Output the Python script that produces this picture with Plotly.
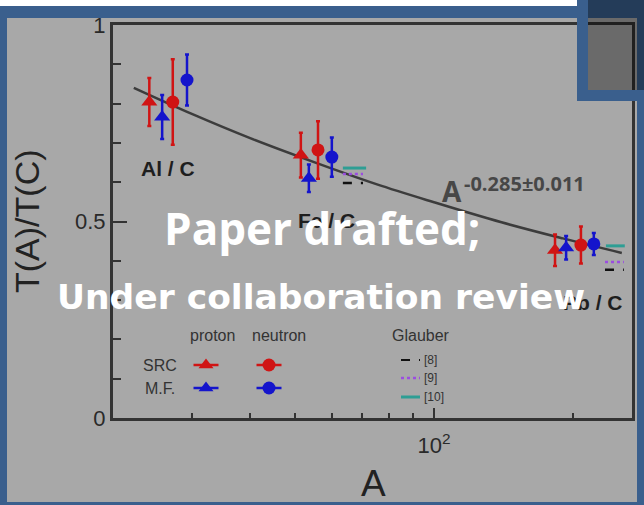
import plotly.graph_objects as go

W, H = 644, 505

# ---------------- data ----------------
src_p_A = [24.2, 51.5, 182.8]
src_p_T = [0.804, 0.669, 0.427]
src_p_err = [0.061, 0.057, 0.040]

mf_p_A = [25.8, 53.6, 193.2]
mf_p_T = [0.766, 0.610, 0.433]
mf_p_err = [0.056, 0.035, 0.030]

src_n_A = [27.2, 56.1, 208.0]
src_n_T = [0.804, 0.682, 0.440]
src_n_err = [0.109, 0.073, 0.047]

mf_n_A = [29.2, 60.1, 221.8]
mf_n_T = [0.860, 0.664, 0.443]
mf_n_err = [0.065, 0.050, 0.028]

fit_A = [22.4, 30, 40, 55, 75, 100, 140, 190, 255]
fit_T = [0.840, 0.773, 0.712, 0.651, 0.595, 0.549, 0.498, 0.457, 0.420]

glauber8_A = [63.5, 70.2, None, 234.5, 257.6]
glauber8_T = [0.598, 0.598, None, 0.377, 0.377]
glauber9_A = [63.5, 70.2, None, 234.5, 257.6]
glauber9_T = [0.621, 0.621, None, 0.397, 0.397]
glauber10_A = [63.5, 71.3, None, 235.6, 258.8]
glauber10_T = [0.636, 0.636, None, 0.438, 0.438]

x_tick_vals = [100]
x_tick_text = ["10<sup>2</sup>"]
x_minor_vals = [30, 40, 50, 60, 70, 80, 90, 200]
y_tick_vals = [0, 0.5, 1]
y_tick_text = ["0", "0.5", "1"]

fit_label = "-0.285±0.011"

# ---------------- style ----------------
RED = "#d01414"
BLUE = "#1414cc"
TEAL = "#2e9e94"
PURPLE = "#9b4de0"
AXC = "#333333"
BG = "#a8a8a8"
FRAME = "#3a5f8d"
ROOTF = "Liberation Sans"

fig = go.Figure()


def pts(xs, ys, err, color, symbol, size):
    fig.add_trace(go.Scatter(
        x=xs, y=ys, mode="markers", xaxis="x", yaxis="y",
        marker=dict(color=color, symbol=symbol, size=size, line=dict(width=0)),
        error_y=dict(type="data", array=err, color=color, thickness=2.5, width=2),
        showlegend=False, hoverinfo="skip"))


fig.add_trace(go.Scatter(x=fit_A, y=fit_T, mode="lines", line=dict(color="#3c3c3c", width=2.5, shape="spline"),
                         showlegend=False, hoverinfo="skip"))
fig.add_trace(go.Scatter(x=glauber10_A, y=glauber10_T, mode="lines", line=dict(color=TEAL, width=3),
                         showlegend=False, hoverinfo="skip"))
fig.add_trace(go.Scatter(x=glauber9_A, y=glauber9_T, mode="lines", line=dict(color=PURPLE, width=2.5, dash="dot"),
                         showlegend=False, hoverinfo="skip"))
fig.add_trace(go.Scatter(x=glauber8_A, y=glauber8_T, mode="lines", line=dict(color="#111111", width=2.5, dash="dash"),
                         showlegend=False, hoverinfo="skip"))

pts(src_p_A, src_p_T, src_p_err, RED, "triangle-up", 14)
pts(mf_p_A, mf_p_T, mf_p_err, BLUE, "triangle-up", 14)
pts(src_n_A, src_n_T, src_n_err, RED, "circle", 13)
pts(mf_n_A, mf_n_T, mf_n_err, BLUE, "circle", 13)

# ---------------- legend glyphs on a pixel-coordinate overlay axis ----------------
leg_x = [206, 269, 206, 269]
leg_y = [365, 365, 388, 388]
leg_c = [RED, RED, BLUE, BLUE]
leg_s = ["triangle-up", "circle", "triangle-up", "circle"]
for lx, ly, lc, ls in zip(leg_x, leg_y, leg_c, leg_s):
    fig.add_trace(go.Scatter(
        x=[lx], y=[ly], mode="markers", xaxis="x2", yaxis="y2",
        marker=dict(color=lc, symbol=ls, size=13),
        error_x=dict(type="constant", value=12.5, color=lc, thickness=2.5, width=0),
        showlegend=False, hoverinfo="skip"))

gl_y = [360, 378, 397]
gl_style = [dict(color="#111111", width=2, dash="dash"),
            dict(color=PURPLE, width=2.5, dash="dot"),
            dict(color=TEAL, width=3)]
for gy, st in zip(gl_y, gl_style):
    fig.add_trace(go.Scatter(x=[401, 420], y=[gy, gy], mode="lines", xaxis="x2", yaxis="y2",
                             line=st, showlegend=False, hoverinfo="skip"))

# ---------------- annotations (pixel coordinates on overlay axis) ----------------
ann = []


def text(t, x, y, size, color="#1e1e1e", family=ROOTF, xanchor="center", angle=0):
    ann.append(dict(text=t, x=x, y=y, xref="x2", yref="y2", showarrow=False,
                    xanchor=xanchor, yanchor="middle", textangle=angle,
                    font=dict(size=size, color=color, family=family)))


text("<b>Al / C</b>", 168, 168, 21)
text("<b>Fe / C</b>", 326, 220, 21)
text("<b>Pb / C</b>", 593, 302, 21)
text("<b>A</b>", 452, 191, 28, color="#474747", family="Open Sans")
text("<b>" + fit_label + "</b>", 462, 183, 20, color="#474747", family="Open Sans", xanchor="left")

text("T(A)/T(C)", 27, 221, 34, color="#222222", angle=-90)
text("A", 373, 483, 37, color="#222222")

text("proton", 212, 335, 16, color="#333333")
text("neutron", 279, 335, 16, color="#333333")
text("SRC", 160, 365, 16, color="#333333")
text("M.F.", 160, 388, 16, color="#333333")
text("Glauber", 421, 335, 16, color="#333333")
text("[8]", 422, 360, 12, color="#333333", xanchor="left")
text("[9]", 422, 378, 12, color="#333333", xanchor="left")
text("[10]", 422, 397, 12, color="#333333", xanchor="left")

text("<b>Paper drafted;</b>", 322, 228, 44, color="white", family="Open Sans")
text("<b>Under collaboration review</b>", 321, 297, 34.5, color="white", family="DejaVu Sans")

# ---------------- slide frame shapes ----------------
shapes = []


def rect(x0, y0, x1, y1, color):
    shapes.append(dict(type="rect", xref="x2", yref="y2", x0=x0, x1=x1,
                       y0=y0, y1=y1, fillcolor=color, line=dict(width=0), layer="above"))


rect(0, 0, 577, 6, "white")
rect(0, 6, 644, 18, FRAME)
rect(577, 0, 644, 6, FRAME)
rect(0, 6, 7, 505, FRAME)
rect(0, 502, 644, 505, FRAME)
rect(637, 6, 644, 505, FRAME)
rect(588, 0, 644, 90, "rgba(0,0,0,0.37)")
rect(577, 0, 588, 101, FRAME)
rect(577, 90, 644, 101, FRAME)

axis_common = dict(showline=True, linewidth=3, linecolor=AXC, mirror=True, showgrid=False,
                   zeroline=False, ticks="inside", tickcolor=AXC, tickwidth=2, automargin=False,
                   tickfont=dict(size=22, family=ROOTF, color="#2a2a2a"))

fig.update_layout(
    width=W, height=H, margin=dict(l=0, r=0, t=0, b=0, pad=0, autoexpand=False),
    paper_bgcolor=BG, plot_bgcolor="rgba(0,0,0,0)",
    xaxis=dict(type="log", range=[1.3052, 2.4286], domain=[113 / W, 632 / W],
               tickmode="array", tickvals=x_tick_vals, ticktext=x_tick_text, ticklen=10,
               ticklabelstandoff=6,
               minor=dict(tickmode="array", tickvals=x_minor_vals, ticklen=5, ticks="inside",
                          tickcolor=AXC, tickwidth=2, showgrid=False),
               anchor="y", **axis_common),
    yaxis=dict(range=[0, 1], domain=[1 - 418 / H, 1 - 25 / H],
               tickmode="array", tickvals=y_tick_vals, ticktext=y_tick_text, ticklen=14,
               minor=dict(dtick=0.1, ticklen=8, ticks="inside", tickcolor=AXC, tickwidth=2, showgrid=False),
               anchor="x", **axis_common),
    xaxis2=dict(range=[0, W], domain=[0, 1], visible=False, anchor="y2", fixedrange=True, automargin=False),
    yaxis2=dict(range=[H, 0], domain=[0, 1], visible=False, anchor="x2", fixedrange=True, automargin=False),
    annotations=ann, shapes=shapes, showlegend=False,
)

fig.write_html("out.html")
